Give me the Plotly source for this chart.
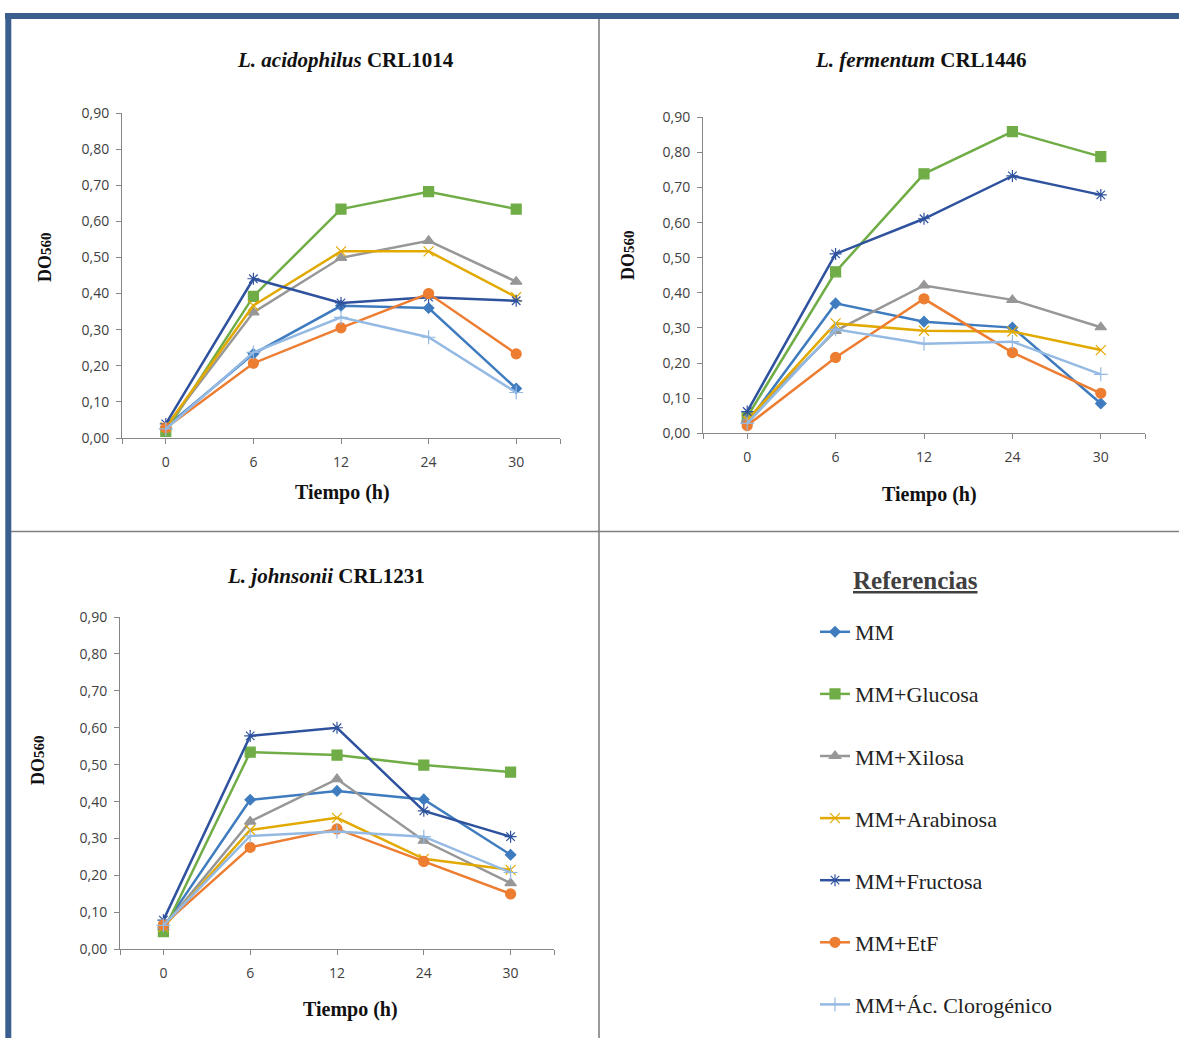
import plotly.graph_objects as go

W, H = 1179, 1038

time_labels = ["0", "6", "12", "24", "30"]
series_names = ["MM", "MM+Glucosa", "MM+Xilosa", "MM+Arabinosa", "MM+Fructosa", "MM+EtF", "MM+Ác. Clorogénico"]

# L. acidophilus CRL1014
acid_MM = [0.03, 0.233, 0.366, 0.360, 0.137]
acid_Glu = [0.018, 0.392, 0.634, 0.682, 0.634]
acid_Xil = [0.03, 0.348, 0.499, 0.546, 0.433]
acid_Ara = [0.03, 0.367, 0.517, 0.517, 0.390]
acid_Fru = [0.039, 0.441, 0.374, 0.390, 0.380]
acid_EtF = [0.028, 0.207, 0.305, 0.400, 0.233]
acid_Clo = [0.025, 0.237, 0.334, 0.279, 0.126]

# L. fermentum CRL1446
ferm_MM = [0.03, 0.370, 0.318, 0.301, 0.085]
ferm_Glu = [0.047, 0.460, 0.739, 0.859, 0.788]
ferm_Xil = [0.04, 0.292, 0.421, 0.380, 0.302]
ferm_Ara = [0.038, 0.313, 0.292, 0.290, 0.237]
ferm_Fru = [0.062, 0.511, 0.611, 0.733, 0.679]
ferm_EtF = [0.022, 0.216, 0.383, 0.230, 0.114]
ferm_Clo = [0.028, 0.296, 0.255, 0.261, 0.168]

# L. johnsonii CRL1231
john_MM = [0.06, 0.405, 0.429, 0.406, 0.256]
john_Glu = [0.048, 0.534, 0.526, 0.499, 0.480]
john_Xil = [0.06, 0.346, 0.461, 0.294, 0.179]
john_Ara = [0.06, 0.323, 0.356, 0.245, 0.215]
john_Fru = [0.079, 0.578, 0.600, 0.375, 0.305]
john_EtF = [0.066, 0.276, 0.326, 0.238, 0.150]
john_Clo = [0.065, 0.307, 0.319, 0.305, 0.208]

y_ticks = [0.0, 0.1, 0.2, 0.3, 0.4, 0.5, 0.6, 0.7, 0.8, 0.9]
y_ticktext = ["0,00", "0,10", "0,20", "0,30", "0,40", "0,50", "0,60", "0,70", "0,80", "0,90"]

panels = [
    ("<b><i>L. acidophilus</i> CRL1014</b>",
     [acid_MM, acid_Glu, acid_Xil, acid_Ara, acid_Fru, acid_EtF, acid_Clo]),
    ("<b><i>L. fermentum</i> CRL1446</b>",
     [ferm_MM, ferm_Glu, ferm_Xil, ferm_Ara, ferm_Fru, ferm_EtF, ferm_Clo]),
    ("<b><i>L. johnsonii</i> CRL1231</b>",
     [john_MM, john_Glu, john_Xil, john_Ara, john_Fru, john_EtF, john_Clo]),
]

colors = ["#3F7CBF", "#70AD47", "#979797", "#E2A900", "#2F529E", "#ED7D31", "#94BAE3"]
symbols = ["diamond", "square", "triangle-up", "x-thin-open", "asterisk-open", "circle", "cross-thin-open"]
msizes = [8, 10, 10, 10, 10, 10, 10]

def px(x):
    return x / W

def py(y):
    return 1 - y / H

# plot-area geometry (pixels): x-left, x-right, y of 0.00, y of 0.90
geom = [
    (122, 560, 438, 113),
    (703, 1145, 433.3, 117.3),
    (120, 554, 949.3, 617),
]
title_pos = [(345, 60), (921, 60), (326, 576)]
xtitle_pos = [(342, 492), (929, 494), (350, 1009)]
ytitle_pos = [(45, 257), (628, 255), (38, 760)]

fig = go.Figure()
serif = "Liberation Serif"
sans = "Open Sans"

for i, (title, data) in enumerate(panels):
    n = "" if i == 0 else str(i + 1)
    for j, vals in enumerate(data):
        fig.add_trace(go.Scatter(
            x=list(range(len(time_labels))), y=vals,
            xaxis="x" + n, yaxis="y" + n,
            mode="lines+markers",
            name=series_names[j],
            legendgroup=series_names[j],
            showlegend=(i == 0),
            line=dict(color=colors[j], width=2.5),
            marker=dict(symbol=symbols[j], size=msizes[j], color=colors[j],
                        line=dict(color=colors[j], width=1.2)),
        ))
    x0, x1, yb, yt = geom[i]
    axis_common = dict(showgrid=False, zeroline=False, showline=True,
                       linecolor="#868686", linewidth=1, ticks="outside",
                       ticklen=5, tickcolor="#868686",
                       tickfont=dict(family=sans, size=14, color="#404040"))
    fig.update_layout(**{
        "xaxis" + n: dict(domain=[px(x0), px(x1)], range=[-0.5, 4.5],
                          tickvals=[-0.5, 0, 1, 2, 3, 4, 4.5],
                          ticktext=[""] + time_labels + [""],
                          anchor="y" + n, ticklabelstandoff=6, fixedrange=True,
                          **axis_common),
        "yaxis" + n: dict(domain=[py(yb), py(yt)], range=[0, 0.9],
                          tickvals=y_ticks, ticktext=y_ticktext,
                          anchor="x" + n, ticklabelstandoff=4, fixedrange=True,
                          **axis_common),
    })
    tx, ty = title_pos[i]
    fig.add_annotation(x=px(tx), y=py(ty), xref="paper", yref="paper",
                       xanchor="center", yanchor="middle",
                       text=title, showarrow=False,
                       font=dict(family=serif, size=21, color="#111111"))
    ax, ay = xtitle_pos[i]
    fig.add_annotation(x=px(ax), y=py(ay), xref="paper", yref="paper",
                       xanchor="center", yanchor="middle",
                       text="<b>Tiempo (h)</b>", showarrow=False,
                       font=dict(family=serif, size=20, color="#111111"))
    yx, yy = ytitle_pos[i]
    fig.add_annotation(x=px(yx), y=py(yy), xref="paper", yref="paper",
                       xanchor="center", yanchor="middle",
                       text="<b>DO<span style='font-size:15px'>560</span></b>",
                       showarrow=False, textangle=-90,
                       font=dict(family=serif, size=18, color="#111111"))

# Legend title
fig.add_annotation(x=px(915), y=py(580), xref="paper", yref="paper",
                   xanchor="center", yanchor="middle",
                   text="<b><u>Referencias</u></b>", showarrow=False,
                   font=dict(family=serif, size=25, color="#404040"))

border = "#3A5F8F"
divider = "#808080"
fig.update_layout(
    shapes=[
        dict(type="line", xref="paper", yref="paper", x0=px(5), x1=1, y0=py(16), y1=py(16),
             line=dict(color=border, width=6)),
        dict(type="line", xref="paper", yref="paper", x0=px(8.3), x1=px(8.3), y0=py(13), y1=0,
             line=dict(color=border, width=6)),
        dict(type="line", xref="paper", yref="paper", x0=px(599), x1=px(599), y0=py(19), y1=0,
             line=dict(color=divider, width=1.6)),
        dict(type="line", xref="paper", yref="paper", x0=px(11), x1=1, y0=py(531.5), y1=py(531.5),
             line=dict(color=divider, width=1.6)),
    ],
    width=W, height=H,
    margin=dict(l=0, r=0, t=0, b=0, autoexpand=False),
    paper_bgcolor="white", plot_bgcolor="white",
    showlegend=True,
    legend=dict(x=px(815), y=py(611), xanchor="left", yanchor="top",
                font=dict(family=serif, size=22, color="#222222"),
                tracegroupgap=30.5, bgcolor="rgba(0,0,0,0)"),
)

fig.write_html("out.html")
